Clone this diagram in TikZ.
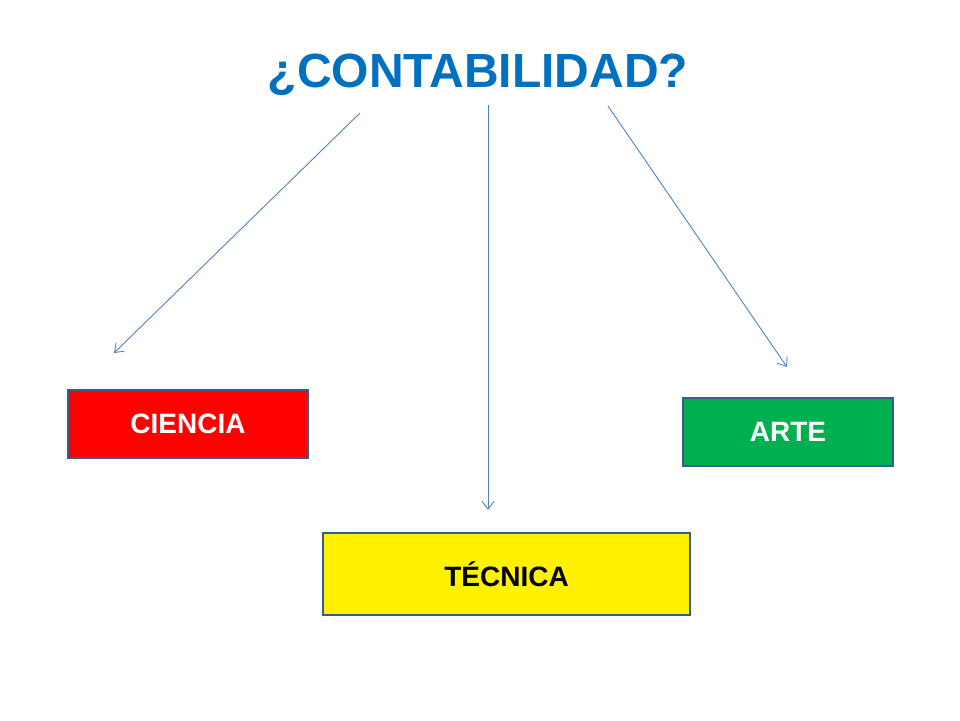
\documentclass[tikz,border=0pt]{standalone}
\usepackage{fontspec}
\setmainfont{Liberation Sans}
\usetikzlibrary{arrows.meta}
\definecolor{tblue}{HTML}{0070C0}
\definecolor{lblue}{HTML}{4F81BD}
\definecolor{bord}{HTML}{385D8A}
\definecolor{gr}{HTML}{00B050}
\tikzset{box/.style={draw=bord,line width=2pt,inner sep=0pt,font=\bfseries\fontsize{28}{32}\selectfont},
 conn/.style={lblue,line width=0.9pt,-{Straight Barb[length=8pt,width=12pt]}}}
\begin{document}
\begin{tikzpicture}[x=1pt,y=-1pt]
\useasboundingbox (0,0) rectangle (960,720);
\node[font=\bfseries\fontsize{48}{52}\selectfont,text=tblue] (t) at (478,75) {¿CONTABILIDAD?};
\node[box,fill=red,text=white,minimum width=240pt,minimum height=68pt] (c) at (188,424) {CIENCIA};
\node[box,fill=gr,text=white,minimum width=210pt,minimum height=68pt] (a) at (788,432) {ARTE};
\node[box,fill=yellow,text=black,minimum width=367pt,minimum height=82pt] (tc) at (506.5,574) {TÉCNICA};
\coordinate (s1) at (360,113); \coordinate (e1) at (114,353);
\coordinate (s2) at (488,105); \coordinate (e2) at (488,510);
\coordinate (s3) at (608,106); \coordinate (e3) at (787,367);
\draw[conn] (s1) -- (e1);
\draw[conn] (s2) -- (e2);
\draw[conn] (s3) -- (e3);
\end{tikzpicture}
\end{document}
